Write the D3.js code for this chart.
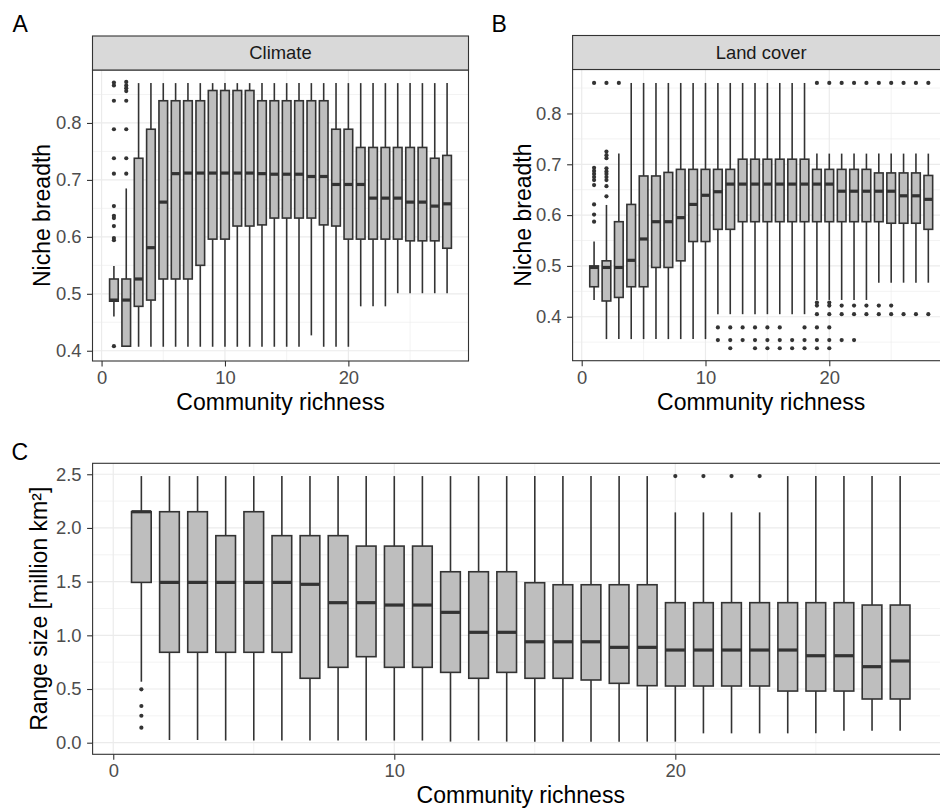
<!DOCTYPE html>
<html>
<head>
<meta charset="utf-8">
<script src="https://cdn.jsdelivr.net/npm/d3@7/dist/d3.min.js"></script>
<style>
  body { margin: 0; background: #fff; }
  svg { display: block; font-family: "Liberation Sans", Arial, sans-serif; }
</style>
</head>
<body>
<div id="chart"></div>
<script>
const richness = [1, 2, 3, 4, 5, 6, 7, 8, 9, 10, 11, 12, 13, 14, 15, 16, 17, 18, 19, 20, 21, 22, 23, 24, 25, 26, 27, 28];

// A - climate niche breadth
const climateLo = [0.460, 0.408, 0.407, 0.407, 0.407, 0.407, 0.407, 0.407, 0.407, 0.407, 0.407, 0.407, 0.407, 0.407, 0.407, 0.407, 0.427, 0.407, 0.407, 0.407, 0.478, 0.478, 0.478, 0.501, 0.501, 0.501, 0.501, 0.501];
const climateQ1 = [0.487, 0.408, 0.478, 0.489, 0.526, 0.526, 0.526, 0.550, 0.596, 0.596, 0.619, 0.619, 0.621, 0.633, 0.633, 0.633, 0.633, 0.621, 0.619, 0.596, 0.596, 0.596, 0.596, 0.596, 0.593, 0.593, 0.593, 0.580];
const climateMed = [0.489, 0.489, 0.526, 0.581, 0.661, 0.711, 0.712, 0.712, 0.712, 0.712, 0.712, 0.712, 0.711, 0.710, 0.710, 0.710, 0.706, 0.706, 0.692, 0.692, 0.692, 0.668, 0.668, 0.668, 0.661, 0.661, 0.654, 0.658];
const climateQ3 = [0.526, 0.526, 0.738, 0.789, 0.839, 0.839, 0.839, 0.839, 0.857, 0.857, 0.857, 0.857, 0.839, 0.839, 0.839, 0.839, 0.839, 0.839, 0.789, 0.789, 0.757, 0.757, 0.757, 0.757, 0.757, 0.757, 0.738, 0.743];
const climateHi = [0.549, 0.685, 0.870, 0.870, 0.870, 0.870, 0.870, 0.870, 0.870, 0.870, 0.870, 0.870, 0.870, 0.870, 0.870, 0.870, 0.870, 0.870, 0.870, 0.870, 0.870, 0.870, 0.870, 0.870, 0.870, 0.870, 0.870, 0.870];
const climateOut = [
  [1, 0.871], [1, 0.866], [1, 0.839], [1, 0.789], [1, 0.738], [1, 0.711], [1, 0.654], [1, 0.637],
  [1, 0.633], [1, 0.619], [1, 0.598], [1, 0.594], [1, 0.408],
  [2, 0.872], [2, 0.866], [2, 0.861], [2, 0.856], [2, 0.839], [2, 0.789], [2, 0.738], [2, 0.711]
];

// B - land cover niche breadth
const landLo = [0.433, 0.356, 0.356, 0.356, 0.356, 0.356, 0.356, 0.356, 0.356, 0.356, 0.405, 0.405, 0.405, 0.405, 0.405, 0.405, 0.405, 0.405, 0.433, 0.433, 0.433, 0.433, 0.433, 0.467, 0.467, 0.467, 0.467, 0.467];
const landQ1 = [0.459, 0.431, 0.438, 0.459, 0.459, 0.497, 0.497, 0.510, 0.548, 0.548, 0.572, 0.572, 0.587, 0.587, 0.587, 0.587, 0.587, 0.587, 0.587, 0.587, 0.587, 0.587, 0.587, 0.587, 0.584, 0.584, 0.584, 0.572];
const landMed = [0.497, 0.497, 0.497, 0.511, 0.553, 0.587, 0.587, 0.595, 0.621, 0.639, 0.646, 0.661, 0.661, 0.661, 0.661, 0.661, 0.661, 0.661, 0.661, 0.661, 0.647, 0.647, 0.647, 0.647, 0.647, 0.638, 0.638, 0.631];
const landQ3 = [0.500, 0.510, 0.587, 0.621, 0.677, 0.677, 0.684, 0.690, 0.690, 0.690, 0.690, 0.690, 0.710, 0.710, 0.710, 0.710, 0.710, 0.710, 0.690, 0.690, 0.690, 0.690, 0.690, 0.683, 0.683, 0.683, 0.683, 0.678];
const landHi = [0.548, 0.620, 0.721, 0.860, 0.860, 0.860, 0.860, 0.860, 0.860, 0.860, 0.860, 0.860, 0.860, 0.860, 0.860, 0.860, 0.860, 0.860, 0.721, 0.721, 0.721, 0.721, 0.721, 0.721, 0.721, 0.721, 0.721, 0.721];
const landOut = [
  [1, 0.860], [1, 0.693], [1, 0.687], [1, 0.681], [1, 0.675], [1, 0.669], [1, 0.659], [1, 0.621], [1, 0.601], [1, 0.587],
  [2, 0.860], [2, 0.725], [2, 0.718], [2, 0.712], [2, 0.692], [2, 0.686], [2, 0.681], [2, 0.675], [2, 0.669], [2, 0.657], [2, 0.637],
  [3, 0.860],
  [11, 0.379], [11, 0.354],
  [12, 0.379], [12, 0.354], [12, 0.338],
  [13, 0.379], [13, 0.354],
  [14, 0.379], [14, 0.354], [14, 0.338],
  [15, 0.379], [15, 0.354], [15, 0.338],
  [16, 0.379], [16, 0.354], [16, 0.338],
  [17, 0.354], [17, 0.338],
  [18, 0.379], [18, 0.354], [18, 0.338],
  [19, 0.860], [19, 0.428], [19, 0.422], [19, 0.405], [19, 0.379], [19, 0.354], [19, 0.338],
  [20, 0.860], [20, 0.428], [20, 0.422], [20, 0.405], [20, 0.379], [20, 0.354], [20, 0.338],
  [21, 0.860], [21, 0.422], [21, 0.405], [21, 0.354],
  [22, 0.860], [22, 0.422], [22, 0.405], [22, 0.354],
  [23, 0.860], [23, 0.422], [23, 0.405],
  [24, 0.860], [24, 0.422], [24, 0.405],
  [25, 0.860], [25, 0.422], [25, 0.405],
  [26, 0.860], [26, 0.405],
  [27, 0.860], [27, 0.405],
  [28, 0.860], [28, 0.405]
];

// C - range size (million km2)
const rangeLo = [0.568, 0.025, 0.025, 0.020, 0.020, 0.020, 0.020, 0.020, 0.020, 0.020, 0.020, 0.010, 0.020, 0.010, 0.010, 0.010, 0.010, 0.010, 0.010, 0.010, 0.087, 0.087, 0.087, 0.087, 0.087, 0.112, 0.112, 0.112];
const rangeQ1 = [1.493, 0.842, 0.842, 0.842, 0.842, 0.842, 0.600, 0.702, 0.801, 0.702, 0.702, 0.655, 0.600, 0.655, 0.600, 0.600, 0.584, 0.553, 0.531, 0.528, 0.528, 0.528, 0.528, 0.481, 0.481, 0.481, 0.407, 0.407];
const rangeMed = [2.151, 1.493, 1.493, 1.493, 1.493, 1.493, 1.475, 1.304, 1.304, 1.282, 1.282, 1.214, 1.028, 1.028, 0.940, 0.940, 0.940, 0.888, 0.888, 0.863, 0.863, 0.863, 0.863, 0.863, 0.810, 0.810, 0.708, 0.761];
const rangeQ3 = [2.151, 2.151, 2.151, 1.928, 2.151, 1.928, 1.928, 1.928, 1.831, 1.831, 1.831, 1.592, 1.592, 1.592, 1.490, 1.471, 1.471, 1.471, 1.471, 1.304, 1.304, 1.304, 1.304, 1.304, 1.304, 1.304, 1.282, 1.282];
const rangeHi = [2.483, 2.483, 2.483, 2.483, 2.483, 2.483, 2.483, 2.483, 2.483, 2.483, 2.483, 2.483, 2.483, 2.483, 2.483, 2.483, 2.483, 2.483, 2.483, 2.145, 2.145, 2.145, 2.145, 2.483, 2.483, 2.483, 2.483, 2.483];
const rangeOut = [[1, 0.497], [1, 0.342], [1, 0.251], [1, 0.140], [20, 2.483], [21, 2.483], [22, 2.483], [23, 2.483]];

const xTicks = [0, 10, 20];
const xMinor = [5, 15, 25];
const nicheTicks = [0.4, 0.5, 0.6, 0.7, 0.8];
const nicheMinor = [0.35, 0.45, 0.55, 0.65, 0.75, 0.85];
const rangeTicks = [0.0, 0.5, 1.0, 1.5, 2.0, 2.5];
const rangeMinor = [0.25, 0.75, 1.25, 1.75, 2.25];

const W = 940, H = 809;
const boxWidth = 0.7;
const xDomain = [-0.735, 29.735];
const tickSize = 18.4;
const titleSize = 23;

const svg = d3.select("#chart").append("svg")
  .attr("width", W)
  .attr("height", H);

function renderBoxPanel(cfg) {
  const { left, right, top, bottom } = cfg.area;
  const x = d3.scaleLinear().domain(xDomain).range([left, right]);
  const y = d3.scaleLinear().domain(cfg.yDomain).range([bottom, top]);
  const g = svg.append("g");

  g.append("rect")
    .attr("x", left).attr("y", top)
    .attr("width", right - left).attr("height", bottom - top)
    .attr("fill", "#fff");

  // grid
  const yMinor = cfg.yMinor.filter(v => v > cfg.yDomain[0] && v < cfg.yDomain[1]);
  g.selectAll(".gy-minor").data(yMinor).enter().append("line")
    .attr("x1", left).attr("x2", right)
    .attr("y1", d => y(d)).attr("y2", d => y(d))
    .attr("stroke", "#EBEBEB").attr("stroke-width", 0.6);
  g.selectAll(".gx-minor").data(xMinor).enter().append("line")
    .attr("y1", top).attr("y2", bottom)
    .attr("x1", d => x(d)).attr("x2", d => x(d))
    .attr("stroke", "#EBEBEB").attr("stroke-width", 0.6);
  g.selectAll(".gy-major").data(cfg.yTicks).enter().append("line")
    .attr("x1", left).attr("x2", right)
    .attr("y1", d => y(d)).attr("y2", d => y(d))
    .attr("stroke", "#EBEBEB").attr("stroke-width", 1.2);
  g.selectAll(".gx-major").data(xTicks).enter().append("line")
    .attr("y1", top).attr("y2", bottom)
    .attr("x1", d => x(d)).attr("x2", d => x(d))
    .attr("stroke", "#EBEBEB").attr("stroke-width", 1.2);

  const data = richness.map((r, i) => ({
    r, lo: cfg.lo[i], q1: cfg.q1[i], med: cfg.med[i], q3: cfg.q3[i], hi: cfg.hi[i]
  }));
  const bw = x(boxWidth) - x(0);

  const boxes = g.selectAll(".box").data(data).enter().append("g").attr("class", "box");
  boxes.append("line")
    .attr("x1", d => x(d.r)).attr("x2", d => x(d.r))
    .attr("y1", d => y(d.q3)).attr("y2", d => y(d.hi))
    .attr("stroke", "#333").attr("stroke-width", 1.6);
  boxes.append("line")
    .attr("x1", d => x(d.r)).attr("x2", d => x(d.r))
    .attr("y1", d => y(d.q1)).attr("y2", d => y(d.lo))
    .attr("stroke", "#333").attr("stroke-width", 1.6);
  boxes.append("rect")
    .attr("x", d => x(d.r) - bw / 2)
    .attr("y", d => y(d.q3))
    .attr("width", bw)
    .attr("height", d => Math.max(0.5, y(d.q1) - y(d.q3)))
    .attr("fill", "#BEBEBE")
    .attr("stroke", "#333").attr("stroke-width", 1.6);
  boxes.append("line")
    .attr("x1", d => x(d.r) - bw / 2).attr("x2", d => x(d.r) + bw / 2)
    .attr("y1", d => y(d.med)).attr("y2", d => y(d.med))
    .attr("stroke", "#333").attr("stroke-width", 3.2);

  g.selectAll(".outlier").data(cfg.out).enter().append("circle")
    .attr("cx", d => x(d[0])).attr("cy", d => y(d[1]))
    .attr("r", 2.1).attr("fill", "#333");

  g.append("rect")
    .attr("x", left).attr("y", top)
    .attr("width", right - left).attr("height", bottom - top)
    .attr("fill", "none").attr("stroke", "#333").attr("stroke-width", 1.1);

  // axes
  const yAxis = g.append("g")
    .attr("transform", `translate(${left},0)`)
    .call(d3.axisLeft(y).tickValues(cfg.yTicks).tickSize(5.5).tickPadding(5.5).tickFormat(d3.format(".1f")));
  const xAxis = g.append("g")
    .attr("transform", `translate(0,${bottom})`)
    .call(d3.axisBottom(x).tickValues(xTicks).tickSize(5.5).tickPadding(4.5).tickFormat(d3.format("d")));
  [yAxis, xAxis].forEach(a => {
    a.select(".domain").remove();
    a.selectAll(".tick line").attr("stroke", "#333").attr("stroke-width", 1.1);
    a.selectAll(".tick text")
      .attr("fill", "#4D4D4D")
      .style("font-size", tickSize + "px")
      .style("font-family", "'Liberation Sans', Arial, sans-serif");
  });

  // strip
  if (cfg.strip) {
    g.append("rect")
      .attr("x", left).attr("y", top - 34)
      .attr("width", right - left).attr("height", 34)
      .attr("fill", "#D9D9D9").attr("stroke", "#333").attr("stroke-width", 1.1);
    g.append("text")
      .attr("x", (left + right) / 2).attr("y", top - 17)
      .attr("dy", "0.35em")
      .attr("text-anchor", "middle")
      .attr("fill", "#1A1A1A")
      .style("font-size", tickSize + "px")
      .text(cfg.strip);
  }

  // titles
  g.append("text")
    .attr("x", (left + right) / 2).attr("y", bottom + 49)
    .attr("text-anchor", "middle")
    .attr("fill", "#000")
    .style("font-size", titleSize + "px")
    .text("Community richness");
  g.append("text")
    .attr("transform", `translate(${left - cfg.yTitleGap},${(top + bottom) / 2}) rotate(-90)`)
    .attr("text-anchor", "middle")
    .attr("fill", "#000")
    .style("font-size", titleSize + "px")
    .text(cfg.yTitle);

  svg.append("text")
    .attr("x", cfg.tag[0]).attr("y", cfg.tag[1])
    .attr("fill", "#000")
    .style("font-size", titleSize + "px")
    .text(cfg.tagText);
}

renderBoxPanel({
  area: { left: 92.5, right: 468.5, top: 70, bottom: 361 },
  yDomain: [0.382, 0.893], yTicks: nicheTicks, yMinor: nicheMinor,
  lo: climateLo, q1: climateQ1, med: climateMed, q3: climateQ3, hi: climateHi, out: climateOut,
  strip: "Climate", yTitle: "Niche breadth", yTitleGap: 43,
  tag: [12.5, 31.5], tagText: "A"
});

renderBoxPanel({
  area: { left: 572.6, right: 949.8, top: 69.5, bottom: 360.7 },
  yDomain: [0.3135, 0.8865], yTicks: nicheTicks, yMinor: nicheMinor,
  lo: landLo, q1: landQ1, med: landMed, q3: landQ3, hi: landHi, out: landOut,
  strip: "Land cover", yTitle: "Niche breadth", yTitleGap: 42,
  tag: [491.5, 31.5], tagText: "B"
});

renderBoxPanel({
  area: { left: 92.6, right: 948.9, top: 463.3, bottom: 754.3 },
  yDomain: [-0.108, 2.602], yTicks: rangeTicks, yMinor: rangeMinor,
  lo: rangeLo, q1: rangeQ1, med: rangeMed, q3: rangeQ3, hi: rangeHi, out: rangeOut,
  strip: null, yTitle: "Range size [million km²]", yTitleGap: 45.5,
  tag: [11.5, 460], tagText: "C"
});
</script>
</body>
</html>
